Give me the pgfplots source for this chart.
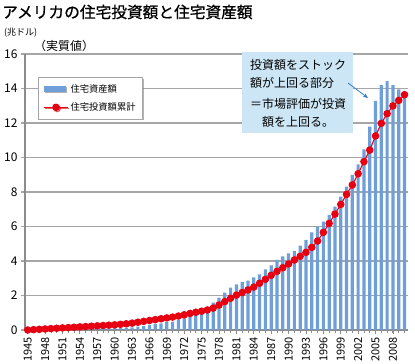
\documentclass[border=0pt]{standalone}
\usepackage{fontspec}
\setmainfont{Noto Sans CJK JP}
\newfontfamily\titlefont[FakeBold=0.8]{Noto Sans CJK JP}
\usepackage{pgfplots}
\usepackage{pgfplotstable}
\pgfplotsset{compat=1.18}
\usetikzlibrary{shadows,arrows.meta}
\definecolor{barblue}{HTML}{6F9FD8}
\definecolor{dotred}{HTML}{E60012}
\definecolor{gridgray}{HTML}{A6A6A6}
\definecolor{axisgray}{HTML}{8C8C8C}
\definecolor{boxblue}{HTML}{CCE6F6}
\definecolor{arrowblue}{HTML}{2E7BC4}

\pgfplotstableread{
year stock
1945 0.01
1946 0.01
1947 0.02
1948 0.02
1949 0.03
1950 0.03
1951 0.04
1952 0.04
1953 0.05
1954 0.05
1955 0.06
1956 0.07
1957 0.08
1958 0.09
1959 0.10
1960 0.11
1961 0.12
1962 0.13
1963 0.15
1964 0.19
1965 0.23
1966 0.29
1967 0.35
1968 0.39
1969 0.45
1970 0.48
1971 0.58
1972 0.68
1973 0.81
1974 0.93
1975 1.10
1976 1.33
1977 1.58
1978 1.87
1979 2.16
1980 2.45
1981 2.65
1982 2.77
1983 2.86
1984 3.05
1985 3.23
1986 3.52
1987 3.75
1988 4.06
1989 4.27
1990 4.44
1991 4.58
1992 4.89
1993 5.22
1994 5.66
1995 5.99
1996 6.28
1997 6.67
1998 7.15
1999 7.73
2000 8.31
2001 8.99
2002 9.60
2003 10.47
2004 11.79
2005 13.28
2006 14.20
2007 14.43
2008 14.20
2009 13.95
2010 13.80
}\stocktab

\pgfplotstableread{
year cum
1945 0.00
1946 0.02
1947 0.04
1948 0.06
1949 0.08
1950 0.10
1951 0.12
1952 0.14
1953 0.16
1954 0.18
1955 0.20
1956 0.22
1957 0.24
1958 0.26
1959 0.28
1960 0.30
1961 0.33
1962 0.36
1963 0.40
1964 0.45
1965 0.50
1966 0.55
1967 0.60
1968 0.65
1969 0.70
1970 0.75
1971 0.81
1972 0.88
1973 0.96
1974 1.03
1975 1.09
1976 1.16
1977 1.27
1978 1.45
1979 1.65
1980 1.84
1981 2.02
1982 2.17
1983 2.32
1984 2.49
1985 2.71
1986 2.94
1987 3.17
1988 3.40
1989 3.61
1990 3.83
1991 4.06
1992 4.27
1993 4.50
1994 4.79
1995 5.16
1996 5.66
1997 6.18
1998 6.72
1999 7.28
2000 7.86
2001 8.41
2002 9.06
2003 9.76
2004 10.43
2005 11.25
2006 11.98
2007 12.54
2008 12.99
2009 13.31
2010 13.64
}\cumtab

\begin{document}
\begin{tikzpicture}[x=1pt,y=1pt]
\path[use as bounding box] (0,0) rectangle (415,364);
\begin{axis}[
  at={(25pt,34pt)}, anchor=south west,
  width=383pt, height=276pt, scale only axis,
  xmin=1944.53, xmax=2010.6, ymin=0, ymax=16,
  axis x line=bottom, axis y line=left,
  axis line style={-, draw=axisgray, line width=1.6pt},
  ytick={0,2,...,16},
  xtick={1945,1948,...,2008},
  minor xtick={1945,...,2010},
  xticklabel={\pgfmathprintnumber[1000 sep={}]{\tick}},
  /pgf/number format/assume math mode=true,
  x tick label style={rotate=90, anchor=east, font=\fontsize{11}{11}\selectfont},
  y tick label style={font=\fontsize{12}{12}\selectfont},
  tick align=outside,
  major tick length=4pt, minor tick length=3pt,
  x tick style={draw=axisgray, line width=0.8pt},
  y tick style={draw=gridgray, line width=1.2pt},
  ymajorgrids, grid style={draw=gridgray, line width=1.2pt},
  legend style={at={(0.034,0.917)}, anchor=north west, draw=gridgray, line width=0.8pt,
    fill=white, font=\fontsize{9.3}{9.3}\selectfont, inner xsep=5pt, inner ysep=5pt,
    row sep=5pt, drop shadow={shadow xshift=1.2pt, shadow yshift=-1.2pt, opacity=0.6}},
  legend cell align=left,
]
\addplot[ybar, bar width=3.2pt, fill=barblue, draw=none,
  legend image code/.code={\fill[barblue] (0pt,-3pt) rectangle (22pt,3pt);}]
  table[x=year, y=stock] {\stocktab};
\addlegendentry{住宅資産額}
\addplot[dotred, line width=1.1pt, mark=*, mark size=3.2pt, mark options={fill=dotred, draw=dotred},
  legend image code/.code={\draw[dotred, line width=1.1pt] (0pt,0pt) -- (24pt,0pt);
    \fill[dotred] (12pt,0pt) circle (3.2pt);}]
  table[x=year, y=cum] {\cumtab};
\addlegendentry{住宅投資額累計}
\end{axis}
% title and units
\node[anchor=west, inner sep=0pt, font=\titlefont\fontsize{15.7}{16}\selectfont] at (2,352) {アメリカの住宅投資額と住宅資産額};
\node[anchor=west, inner sep=0pt, font=\fontsize{9}{9}\selectfont] at (4,331) {(兆ドル)};
\node[anchor=west, inner sep=0pt, font=\fontsize{12}{12}\selectfont] at (34,318) {（実質値）};
% callout
\fill[boxblue] (242,231) rectangle (353,312);
\node[anchor=west, inner sep=0pt, font=\fontsize{12}{12}\selectfont] at (250,299) {投資額をストック};
\node[anchor=west, inner sep=0pt, font=\fontsize{12}{12}\selectfont] at (250,281) {額が上回る部分};
\node[anchor=west, inner sep=0pt, font=\fontsize{12}{12}\selectfont] at (250,260) {＝市場評価が投資};
\node[anchor=west, inner sep=0pt, font=\fontsize{12}{12}\selectfont] at (262,242) {額を上回る。};
\draw[arrowblue, line width=0.8pt, -{Stealth[length=5pt,width=4pt]}] (348,281) -- (368,266);
\end{tikzpicture}
\end{document}
